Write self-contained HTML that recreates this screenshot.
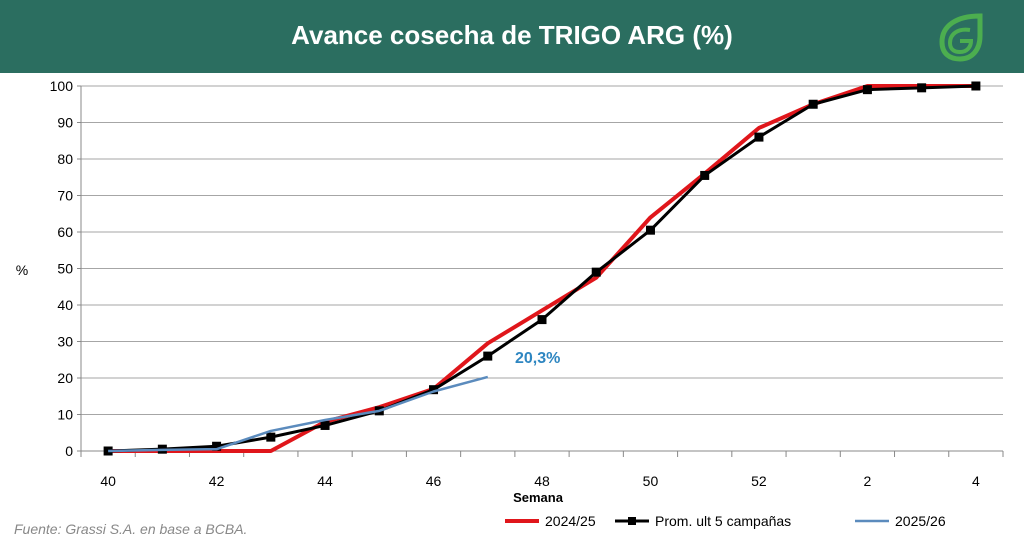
<!DOCTYPE html>
<html><head><meta charset="utf-8"><style>
body{margin:0;width:1024px;height:548px;background:#fff;font-family:"Liberation Sans",sans-serif;overflow:hidden;position:relative}
#hdr{position:absolute;left:0;top:0;width:1024px;height:73px;background:#2b6e60}
#title{position:absolute;left:0;width:1024px;top:20px;text-align:center;color:#fff;font-weight:bold;font-size:26px}
</style></head><body>
<div id="hdr"><div id="title">Avance cosecha de TRIGO ARG (%)</div>
<svg style="position:absolute;left:936px;top:12px" width="50" height="50" viewBox="0 0 50 50"><path d="M44 4 C20 4 6 14 6 30 C6 42 14 47 24 47 C36 47 44 38 44 24 Z" fill="none" stroke="#4cae4f" stroke-width="5"/><path d="M34 18 C22 16 14 22 14 31 C14 38 19 40 24 40 C31 40 35 35 35 29 L24 29" fill="none" stroke="#4cae4f" stroke-width="4"/></svg></div>
<svg id="c" width="1024" height="548" style="position:absolute;left:0;top:0"></svg>
<script>
const cats=['40','41','42','43','44','45','46','47','48','49','50','51','52','1','2','3','4'];
const tickLabels=['40','42','44','46','48','50','52','2','4'];
const s2425=[0,0,0,0,8,12,17,29.5,38.5,47.5,64,76,88.5,95,100,100,100];
const sProm=[0,0.5,1.3,3.8,7,11,16.8,26,36,49,60.5,75.5,86,95,99,99.5,100];
const s2526=[0,0.3,0.5,5.5,8.5,11,16.3,20.3];
const yTicks=[0,10,20,30,40,50,60,70,80,90,100];
const svg=document.getElementById('c');const NS='http://www.w3.org/2000/svg';
const L=81,R=1003,T=86,B=451;
const step=(R-L)/cats.length;
const x=i=>L+step*(i+0.5);
const y=v=>B-(B-T)*v/100;
function mk(t,a,p){const e=document.createElementNS(NS,t);for(const k in a)e.setAttribute(k,a[k]);(p||svg).appendChild(e);return e;}
yTicks.forEach(v=>{
 const g=mk('line',{x1:L,x2:R,y1:y(v),y2:y(v),stroke:v?'#a6a6a6':'#888','stroke-width':1});
 
 
 const t=mk('text',{x:L-8,y:y(v)+5,'text-anchor':'end','font-size':14,fill:'#000'});t.textContent=v;
 
 
 mk('line',{x1:L-4,x2:L,y1:y(v),y2:y(v),stroke:'#888'});
});
mk('line',{x1:L,x2:L,y1:T,y2:B,stroke:'#888'});
for(let i=0;i<=cats.length;i++)mk('line',{x1:L+step*i,x2:L+step*i,y1:B,y2:B+6,stroke:'#888'});
cats.forEach((c,i)=>{if(tickLabels.indexOf(c)>=0&&i%2===0){const t=mk('text',{x:x(i),y:486,'text-anchor':'middle','font-size':14});t.textContent=c;
 
 }});
const yt=mk('text',{x:22,y:275,'text-anchor':'middle','font-size':14});yt.textContent='%';


const xt=mk('text',{x:538,y:502,'text-anchor':'middle','font-size':13,'font-weight':'bold'});xt.textContent='Semana';


function line(d,col,w,name){const p=mk('polyline',{points:d.map((v,i)=>x(i)+','+y(v)).join(' '),fill:'none',stroke:col,'stroke-width':w,'stroke-linejoin':'round'});
 
 }
line(s2425,'#e0161b',4,'series-2024-25');
line(sProm,'#000',3,'series-prom-5');
sProm.forEach((v,i)=>{const r=mk('rect',{x:x(i)-4.5,y:y(v)-4.5,width:9,height:9,fill:'#000'});
 
 });
line(s2526,'#5b8bbd',2.5,'series-2025-26');
const lb=mk('text',{x:515,y:363,'font-size':16,'font-weight':'bold',fill:'#2e86c1'});lb.textContent=s2526[s2526.length-1].toString().replace('.',',')+'%';


const src=mk('text',{x:14,y:534,'font-size':14,'font-style':'italic',fill:'#888'});src.textContent='Fuente: Grassi S.A. en base a BCBA.';


const leg=[['2024/25','#e0161b',4,false,505],['Prom. ult 5 campañas','#000',3,true,615],['2025/26','#5b8bbd',2.5,false,855]];
leg.forEach(l=>{mk('line',{x1:l[4],x2:l[4]+34,y1:521,y2:521,stroke:l[1],'stroke-width':l[2]});
 if(l[3])mk('rect',{x:l[4]+13,y:517,width:8,height:8,fill:'#000'});
 const t=mk('text',{x:l[4]+40,y:526,'font-size':14});t.textContent=l[0];
 
 });
</script>
</body></html>
